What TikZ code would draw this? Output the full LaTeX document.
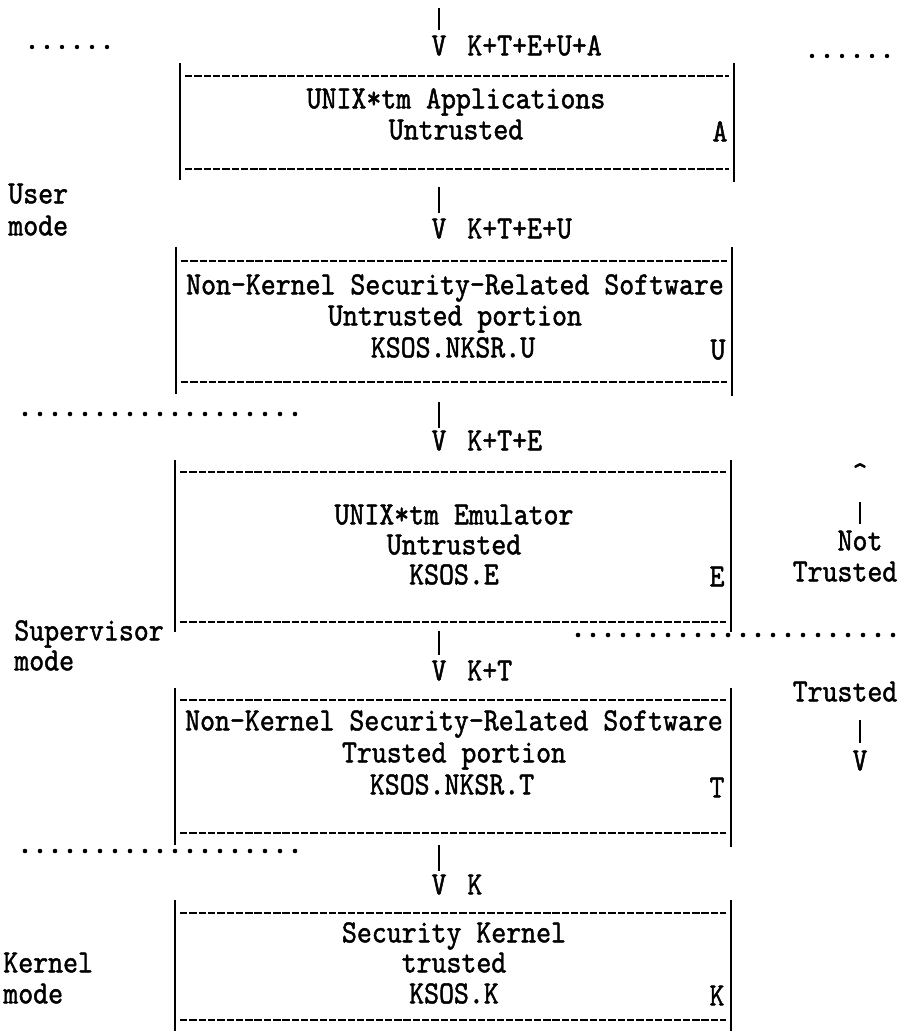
\documentclass[tikz,border=0pt]{standalone}
\usepackage{fontspec}
\newfontfamily\tw{lmmono10-regular.otf}[FakeBold=1.4,FakeStretch=0.88]
\begin{document}
\begin{tikzpicture}[x=0.02cm,y=-0.02cm,
  tt/.style={font=\tw\fontsize{18.4}{20}\selectfont,inner sep=0pt,text height=0.61em,text depth=0pt},
  bar/.style={line width=0.8pt},
  rule/.style={line width=1.45pt,dash pattern=on 4.2pt off 1.1pt},
  conn/.style={line width=0.85pt},
  typedot/.style={fill=black}]
\useasboundingbox (0,0) rectangle (896,1033);

% ---------- dotted level separators (typed periods)
\foreach \i in {0,...,5}  \fill[typedot] (32+15*\i,47) circle (2.2);
\foreach \i in {0,...,5}  \fill[typedot] (812+15*\i,56) circle (2.2);
\foreach \i in {0,...,18} \fill[typedot] (25+15*\i,414) circle (2.3);
\foreach \i in {0,...,21} \fill[typedot] (578+15*\i,635) circle (2.3);
\foreach \i in {0,...,18} \fill[typedot] (25+15*\i,851) circle (2.3);

% ---------- mode labels
\node[tt,anchor=west] (user) at (8,198) {User};
\node[tt,anchor=west] (umode) at (8,230) {mode};
\node[tt,anchor=west] (sup) at (14,635) {Supervisor};
\node[tt,anchor=west] (smode) at (14,665) {mode};
\node[tt,anchor=west] (ker) at (3,967) {Kernel};
\node[tt,anchor=west] (kmode) at (3,998) {mode};

% ---------- box A
\draw[bar] (180,63) -- (180,180);
\draw[bar] (734,63) -- (734,182);
\draw[rule] (185,76) -- (729,76);
\draw[rule] (185,169) -- (729,169);
\node[tt] (a1) at (456,103) {UNIX*tm Applications};
\node[tt] (a2) at (456,134) {Untrusted};
\node[tt] (aA) at (720,136) {A};

% ---------- box U
\draw[bar] (176,247) -- (176,394);
\draw[bar] (732,247) -- (732,396);
\draw[rule] (181,261) -- (727,261);
\draw[rule] (181,382) -- (727,382);
\node[tt] (u1) at (455,289) {Non-Kernel Security-Related Software};
\node[tt] (u2) at (455,320) {Untrusted portion};
\node[tt] (u3) at (453,352) {KSOS.NKSR.U};
\node[tt] (uU) at (718,354) {U};

% ---------- box E
\draw[bar] (175,460) -- (175,632);
\draw[bar] (731,460) -- (731,632);
\draw[rule] (180,472) -- (726,472);
\draw[rule] (180,622) -- (726,622);
\node[tt] (e1) at (454,519) {UNIX*tm Emulator};
\node[tt] (e2) at (454,549) {Untrusted};
\node[tt] (e3) at (454,579) {KSOS.E};
\node[tt] (eE) at (717,581) {E};

% ---------- box T
\draw[bar] (175,688) -- (175,845);
\draw[bar] (731,688) -- (731,847);
\draw[rule] (180,700) -- (726,700);
\draw[rule] (180,833) -- (726,833);
\node[tt] (t1) at (454,725) {Non-Kernel Security-Related Software};
\node[tt] (t2) at (454,757) {Trusted portion};
\node[tt] (t3) at (452,789) {KSOS.NKSR.T};
\node[tt] (tT) at (717,792) {T};

% ---------- box K
\draw[bar] (175,900) -- (175,1031);
\draw[bar] (731,900) -- (731,1031);
\draw[rule] (180,913) -- (726,913);
\draw[rule] (180,1020) -- (726,1020);
\node[tt] (k1) at (454,937) {Security Kernel};
\node[tt] (k2) at (454,967) {trusted};
\node[tt] (k3) at (454,998) {KSOS.K};
\node[tt] (kK) at (717,1000) {K};

% ---------- downward flow (typed | and V)
\node[tt] (v0) at (439,50) {V};
\node[tt,anchor=west] (l0) at (467,50) {K+T+E+U+A};
\coordinate (c0) at (439,8);
\draw[conn] (c0) -- (c0 |- 0,30);

\node[tt] (v1) at (439,233) {V};
\node[tt,anchor=west] (l1) at (467,233) {K+T+E+U};
\coordinate (c1) at (439,187);
\draw[conn] (c1) -- (c1 |- 0,213);

\node[tt] (v2) at (439,445) {V};
\node[tt,anchor=west] (l2) at (467,445) {K+T+E};
\coordinate (c2) at (439,402);
\draw[conn] (c2) -- (c2 |- 0,428);

\node[tt] (v3) at (439,675) {V};
\node[tt,anchor=west] (l3) at (467,675) {K+T};
\coordinate (c3) at (439,631);
\draw[conn] (c3) -- (c3 |- 0,655);

\node[tt] (v4) at (439,889) {V};
\node[tt,anchor=west] (l4) at (467,889) {K};
\coordinate (c4) at (439,845);
\draw[conn] (c4) -- (c4 |- 0,871);

% ---------- trust boundary arrows on the right
\node[tt] (up) at (860,478) {\^{}};
\node[tt] (not) at (860,545) {Not};
\node[tt] (nt) at (845,576) {Trusted};
\coordinate (n0) at (860,502);
\draw[conn] (n0) -- (n0 |- 0,524);

\node[tt] (tr) at (845,696) {Trusted};
\node[tt] (tv) at (860,765) {V};
\coordinate (t0) at (860,720);
\draw[conn] (t0) -- (t0 |- 0,743);
\end{tikzpicture}
\end{document}
